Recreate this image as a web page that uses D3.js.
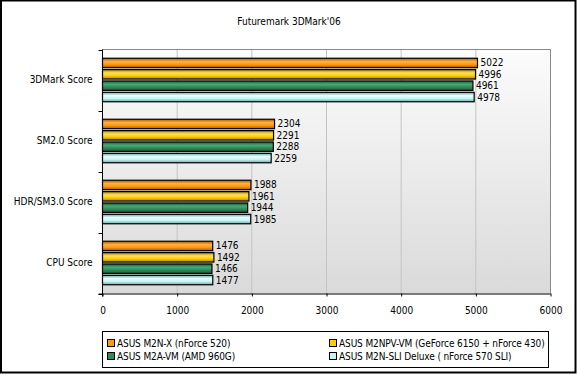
<!DOCTYPE html>
<html><head><meta charset="utf-8">
<script src="https://cdn.jsdelivr.net/npm/d3@7"></script>
<style>
html,body{margin:0;padding:0;background:#fff;}
svg{display:block;}
text{font-family:"DejaVu Sans Condensed","DejaVu Sans",sans-serif;font-stretch:condensed;font-size:10px;fill:#000;}
.leg text{letter-spacing:-0.12px;}
</style></head>
<body>
<script>
const title = "Futuremark 3DMark'06";
const categories = ["3DMark Score","SM2.0 Score","HDR/SM3.0 Score","CPU Score"];
const seriesNames = ["ASUS M2N-X (nForce 520)","ASUS M2NPV-VM (GeForce 6150 + nForce 430)","ASUS M2A-VM (AMD 960G)","ASUS M2N-SLI Deluxe ( nForce 570 SLI)"];
const m2nx   = [5022,2304,1988,1476];
const m2npv  = [4996,2291,1961,1492];
const m2avm  = [4961,2288,1944,1466];
const m2nsli = [4978,2259,1985,1477];
const xTicks = [0,1000,2000,3000,4000,5000,6000];
const colors = [
  {dark:"#a85a00", mid:"#ff9a10", light:"#ffb040"},
  {dark:"#a88400", mid:"#ffcc00", light:"#ffe060"},
  {dark:"#1a5a38", mid:"#2e8b57", light:"#4aa874"},
  {dark:"#6aa8a8", mid:"#c8f4f4", light:"#e8ffff"}
];
const series = [m2nx,m2npv,m2avm,m2nsli];

const W=577,H=375;
const svg=d3.select("body").append("svg").attr("width",W).attr("height",H);
const defs=svg.append("defs");
const bg=defs.append("linearGradient").attr("id","bg").attr("x1",0).attr("y1",0).attr("x2",0).attr("y2",1);
bg.append("stop").attr("offset","0%").attr("stop-color","#fcfcfc");
bg.append("stop").attr("offset","100%").attr("stop-color","#dadada");
colors.forEach((c,i)=>{
  const g=defs.append("linearGradient").attr("id","g"+i).attr("x1",0).attr("y1",0).attr("x2",0).attr("y2",1);
  g.append("stop").attr("offset","0%").attr("stop-color",c.dark);
  g.append("stop").attr("offset","35%").attr("stop-color",c.light);
  g.append("stop").attr("offset","65%").attr("stop-color",c.mid);
  g.append("stop").attr("offset","100%").attr("stop-color",c.dark);
});

// outer border
svg.append("rect").attr("x",1).attr("y",0.5).attr("width",574.5).attr("height",372)
  .attr("fill","none").attr("stroke","#000").attr("stroke-width",2);

const L=102.5,R=550.5,T=49.5,B=293.5;
const x=d3.scaleLinear().domain([0,6000]).range([L,R]);
const y0=d3.scaleBand().domain(categories).range([T,B]).paddingInner(0.27).paddingOuter(0.135);
const y1=d3.scaleBand().domain(d3.range(series.length)).range([0,y0.bandwidth()]).paddingInner(0.08);

svg.append("text").attr("x",289).attr("y",25).attr("text-anchor","middle").text(title);

svg.append("rect").attr("x",L).attr("y",T).attr("width",R-L).attr("height",B-T).attr("fill","url(#bg)");
// gridlines
svg.append("g").selectAll("line").data(xTicks.slice(1)).join("line")
  .attr("x1",d=>x(d)).attr("x2",d=>x(d)).attr("y1",T).attr("y2",B)
  .attr("stroke","#c4c4c4").attr("stroke-width",1);
// plot frame (top & right)
svg.append("path").attr("d",`M${L},${T}H${R}V${B}`).attr("fill","none").attr("stroke","#8a8a8a").attr("stroke-width",1);

// bars
const groups=svg.append("g").selectAll("g").data(categories).join("g")
  .attr("transform",d=>`translate(0,${y0(d)})`);
groups.each(function(cat,ci){
  const g=d3.select(this);
  series.forEach((s,si)=>{
    g.append("rect").attr("x",x(0)).attr("y",y1(si)+0.5)
      .attr("width",x(s[ci])-x(0)).attr("height",y1.bandwidth()-1)
      .attr("fill",`url(#g${si})`).attr("stroke","#000").attr("stroke-width",1.2);
    g.append("text").attr("x",x(s[ci])+3).attr("y",y1(si)+y1.bandwidth()/2+3.5).text(s[ci]);
  });
});

// axes
const yAxis=d3.axisLeft(y0).tickSize(0).tickPadding(10);
const ya=svg.append("g").attr("transform",`translate(${L},0)`).call(yAxis);
ya.select(".domain").remove();
svg.append("line").attr("x1",L).attr("x2",L).attr("y1",T).attr("y2",B+3).attr("stroke","#000");
const bandEdges=categories.map(c=>y0(c)-y0.step()*y0.paddingInner()/2).concat([B]);
svg.append("g").selectAll("line").data(bandEdges).join("line")
  .attr("x1",L-4).attr("x2",L).attr("y1",d=>Math.round(d)+0.5).attr("y2",d=>Math.round(d)+0.5).attr("stroke","#000");

const xAxis=d3.axisBottom(x).tickValues(xTicks).tickSize(3).tickPadding(10).tickFormat(d3.format("d"));
const xa=svg.append("g").attr("transform",`translate(0,${B})`).call(xAxis);
xa.select(".domain").attr("d",`M${L-4},0.5H${R}`).attr("stroke","#000");
xa.selectAll("line").attr("stroke","#000");
xa.attr("font-family",null).attr("font-size",null);
ya.attr("font-family",null).attr("font-size",null);

// legend
const lg=svg.append("g").attr("class","leg");
lg.append("rect").attr("x",102.5).attr("y",331.5).attr("width",446).attr("height",36).attr("fill","#fff").attr("stroke","#000");
const lx=[107,329], ly=[339,352];
seriesNames.forEach((n,i)=>{
  const cx=lx[i%2], cy=ly[Math.floor(i/2)];
  lg.append("rect").attr("x",cx+0.5).attr("y",cy+0.5).attr("width",7).attr("height",7)
    .attr("fill",colors[i].mid).attr("stroke","#000");
  lg.append("text").attr("x",cx+10).attr("y",cy+8).text(n);
});
</script>
</body></html>
